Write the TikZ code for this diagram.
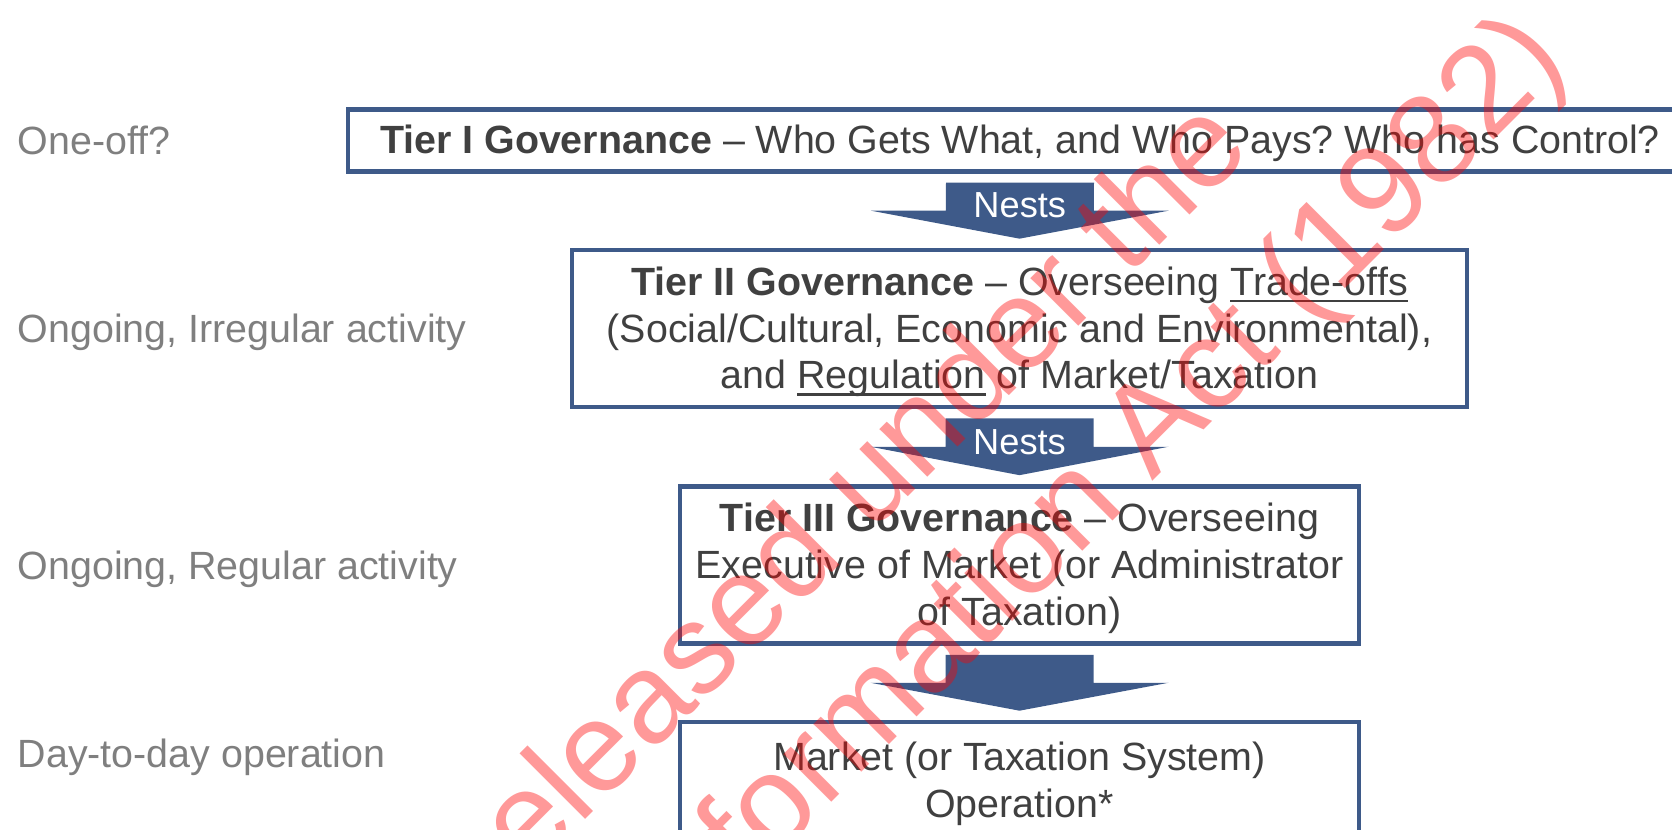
\documentclass[tikz,border=0pt]{standalone}
\usepackage{fontspec}
\setmainfont{Liberation Sans}
\usetikzlibrary{calc}
\frenchspacing

\definecolor{tierblue}{RGB}{62,90,137}
\definecolor{boxtext}{RGB}{64,64,64}
\definecolor{sidetext}{RGB}{127,127,127}

% underline that runs through descenders
\newlength{\tulwd}
\newcommand{\tul}[1]{\settowidth{\tulwd}{#1}\rlap{\rule[-0.17em]{\tulwd}{0.06em}}#1}
% struts for first and last line of a box
\newcommand{\tstrut}{\rule{0pt}{0.9em}}
\newcommand{\bstrut}[1][0.2em]{\rule[-#1]{0pt}{#1}}

\tikzset{
  tierbox/.style={draw=tierblue, line width=1.3pt, text=boxtext, align=center,
    inner sep=0pt, font=\fontsize{11.2}{13.3}\selectfont},
  sidelabel/.style={anchor=base west, inner sep=0pt, text=sidetext,
    font=\fontsize{11.2}{13.3}\selectfont},
  nestlabel/.style={inner sep=0pt, text=white, font=\fontsize{10.3}{12}\selectfont},
  stamp/.style={anchor=base, rotate=45, inner sep=0pt, text=red,
    text opacity=0.4, font=\fontsize{36.4}{44}\selectfont}
}

% block arrow between two boxes
\newcommand{\nestarrow}[3]{%
  \coordinate (#1top) at ($(#1.south)+(0,\gap)$);
  \coordinate (#1tip) at ($(#2.north)+(0,-\gap)$);
  \coordinate (#1mid) at ($(#1top)!.5!(#1tip)$);
  \fill[tierblue] ($(#1top)+(-74,0)$) -- ($(#1top)+(74,0)$) -- ($(#1mid)+(74,0)$)
    -- ($(#1mid)+(149,0)$) -- (#1tip) -- ($(#1mid)+(-149,0)$) -- ($(#1mid)+(-74,0)$) -- cycle;
  \node[nestlabel] (#1lbl) at ($(#1mid)+(0,-5)$) {#3};
}

\begin{document}
\begin{tikzpicture}[x=0.01cm, y=-0.01cm]
    % Gap between box and arrow
    \def\gap{9}

    % Page frame
    \useasboundingbox (0,0) rectangle (1672,830);
    \clip (0,0) rectangle (1672,830);

    % Tier boxes
    \node[tierbox, minimum width=13.43cm, minimum height=0.62cm] (tierone) at (1020,140.3)
        {\tstrut\textbf{Tier I Governance} – Who Gets What, and Who Pays? Who has Control?\bstrut};
    \node[tierbox, minimum width=8.945cm, minimum height=1.57cm] (tiertwo) at (1019.5,328.5)
        {\tstrut\textbf{Tier II Governance} – Overseeing \tul{Trade-offs}\\
         (Social/Cultural, Economic and Environmental),\\
         and \tul{Regulation} of Market/Taxation\bstrut};
    \node[tierbox, minimum width=6.785cm, minimum height=1.57cm] (tierthree) at (1019.5,565)
        {\tstrut\textbf{Tier III Governance} – Overseeing\\
         Executive of Market (or Administrator\\
         of Taxation)\bstrut[0.05em]};
    \node[tierbox, minimum width=6.785cm, minimum height=1.2cm] (market) at (1019.5,782)
        {\tstrut Market (or Taxation System)\\Operation*\bstrut[0.29em]};

    % Nesting arrows
    \nestarrow{tierone}{tiertwo}{Nests}
    \nestarrow{tiertwo}{tierthree}{Nests}
    \nestarrow{tierthree}{market}{}

    % Activity labels
    \node[sidelabel] (oneoff) at (17,154) {One-off?};
    \node[sidelabel] (irregular) at (17,342) {Ongoing, Irregular activity};
    \node[sidelabel] (regular) at (17,579) {Ongoing, Regular activity};
    \node[sidelabel] (daily) at (17,767) {Day-to-day operation};

    % Release stamp
    \node[stamp] (stampone) at (859,546) {Released under the};
    \node[stamp] (stamptwo) at (878,756) {Freedom of Information Act (1982)};
\end{tikzpicture}
\end{document}
